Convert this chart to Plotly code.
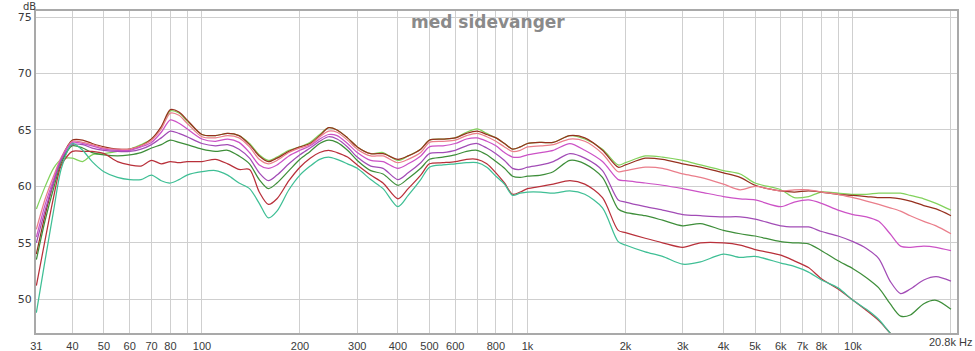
import math
import plotly.graph_objects as go

# Frequencies (Hz) at which the curves were read
freqs = [31, 33, 35, 37, 40, 43, 46, 50, 55, 60, 65, 70, 75, 80, 85, 90, 100, 110, 120, 130,
         140, 150, 160, 170, 185, 200, 215, 230, 245, 260, 280, 300, 330, 360, 400, 430, 470,
         500, 550, 600, 650, 700, 750, 800, 850, 900, 950, 1000, 1100, 1200, 1350, 1500, 1700,
         1900, 2000, 2300, 2600, 3000, 3400, 4000, 4500, 5000, 6000, 6600, 7300, 8000, 9000,
         10000, 11000, 12000, 13000, 14000, 15000, 16500, 18000, 20000]

curve_a = [58.0, 60.0, 61.6, 62.4, 62.5, 62.2, 62.8, 62.9, 63.1, 63.3, 63.7, 64.2, 65.2, 66.7, 66.5, 65.8, 64.6, 64.5, 64.7, 64.5,
           63.8, 62.8, 62.3, 62.6, 63.2, 63.5, 63.9, 64.6, 65.2, 65.0, 64.3, 63.5, 62.9, 63.0, 62.3, 62.7, 63.3,
           64.1, 64.2, 64.3, 64.8, 65.1, 64.7, 64.3, 63.8, 63.3, 63.5, 63.8, 63.9, 63.9, 64.5, 64.2, 63.3,
           61.9, 62.1, 62.7, 62.6, 62.3, 61.9, 61.4, 61.1, 60.3, 59.7, 59.0, 59.1, 59.5, 59.4,
           59.3, 59.3, 59.4, 59.4, 59.4, 59.2, 58.9, 58.5, 57.9]
curve_b = [54.0, 57.5, 60.3, 62.5, 64.1, 64.1, 63.8, 63.5, 63.3, 63.3, 63.6, 64.2, 65.3, 66.8, 66.6, 65.9, 64.6, 64.5, 64.7, 64.5,
           63.7, 62.7, 62.2, 62.5, 63.1, 63.5, 63.8, 64.5, 65.2, 65.0, 64.3, 63.5, 62.9, 62.9, 62.4, 62.7, 63.3,
           64.1, 64.2, 64.3, 64.7, 64.9, 64.6, 64.3, 63.8, 63.3, 63.5, 63.8, 63.9, 63.9, 64.5, 64.3, 63.2,
           61.7, 61.9, 62.5, 62.4, 62.0, 61.7, 61.2, 60.8, 60.1, 59.6, 59.5, 59.6, 59.5, 59.3,
           59.2, 59.1, 59.0, 59.0, 58.9, 58.7, 58.3, 58.0, 57.4]
curve_c = [56.2, 58.9, 60.9, 62.6, 64.0, 63.9, 63.7, 63.4, 63.3, 63.3, 63.6, 64.1, 65.1, 66.5, 66.3, 65.6, 64.4, 64.3, 64.5, 64.3,
           63.5, 62.4, 62.0, 62.3, 63.0, 63.4, 63.7, 64.4, 64.9, 64.8, 64.1, 63.3, 62.7, 62.7, 62.1, 62.4, 63.0,
           63.9, 64.0, 64.1, 64.5, 64.7, 64.4, 64.0, 63.5, 63.1, 63.2, 63.5, 63.6, 63.7, 64.2, 64.0, 62.9,
           61.3, 61.4, 61.7, 61.6, 61.1, 60.8, 60.2, 59.7, 60.0, 59.6, 59.7, 59.7, 59.5, 59.3,
           59.0, 58.7, 58.4, 58.1, 57.8, 57.4, 56.9, 56.5, 55.8]
curve_d = [55.5, 58.4, 60.6, 62.5, 63.9, 63.8, 63.6, 63.3, 63.2, 63.2, 63.5, 63.9, 64.8, 65.9, 65.6, 65.1, 64.2, 64.0, 64.2, 63.9,
           63.0, 61.9, 61.6, 61.9, 62.7, 63.2, 63.6, 64.2, 64.6, 64.5, 63.8, 63.0, 62.3, 62.2, 61.6, 62.0, 62.7,
           63.5, 63.6, 63.8, 64.2, 64.3, 64.0, 63.6, 63.0, 62.6, 62.6, 62.8, 63.0, 63.2, 63.8, 63.2, 62.2,
           60.6, 60.5, 60.3, 60.1, 59.8, 59.5, 59.1, 58.9, 58.8, 58.2, 58.6, 58.8, 58.5, 57.9,
           57.5, 57.3, 56.9, 55.8, 54.7, 54.6, 54.7, 54.6, 54.3]
curve_e = [55.0, 57.9, 60.3, 62.3, 63.7, 63.7, 63.4, 63.2, 63.1, 63.1, 63.3, 63.7, 64.3, 64.9, 64.7, 64.4, 63.8, 63.6, 63.7, 63.3,
           62.5, 61.2, 60.5, 61.0, 62.0, 62.8, 63.4, 64.0, 64.4, 64.2, 63.5, 62.6, 61.8, 61.6, 60.6, 61.2, 62.1,
           62.9, 63.0, 63.2, 63.6, 63.8, 63.4, 62.9, 62.3, 61.6, 61.5, 61.7, 61.9, 62.2, 62.9, 62.5, 61.4,
           58.8, 58.6, 58.2, 57.9, 57.5, 57.4, 57.3, 57.3, 57.1, 56.5, 56.4, 56.4, 56.0, 55.6,
           55.1, 54.5, 53.6, 51.6, 50.5, 50.9, 51.7, 52.0, 51.6]
curve_f = [53.5, 57.0, 59.8, 62.1, 63.6, 63.4, 63.0, 62.8, 62.7, 62.8, 63.0, 63.4, 63.7, 64.1, 63.9, 63.7, 63.3, 63.1, 63.2, 62.7,
           62.0, 60.6, 59.8, 60.3, 61.4, 62.4, 63.1, 63.8, 64.1, 63.9, 63.2, 62.3, 61.4, 61.1, 60.1, 60.7, 61.6,
           62.4, 62.6, 62.8, 63.1, 63.2, 62.8, 62.2, 61.6, 60.9, 60.8, 60.9, 61.0, 61.3, 62.3, 62.0, 60.8,
           58.0, 57.7, 57.4, 57.0, 56.5, 56.7, 56.1, 55.8, 55.6, 55.1, 55.0, 54.9, 54.3, 53.4,
           52.7, 51.9, 51.0, 49.6, 48.5, 48.6, 49.6, 49.9, 49.1]
curve_g = [51.2, 55.3, 59.0, 61.9, 63.1, 63.1, 63.1, 62.9, 62.2, 61.9, 61.8, 62.3, 62.0, 62.2, 62.1, 62.2, 62.2, 62.4, 62.0, 61.5,
           61.5, 59.5, 58.4, 58.9, 60.5, 61.7, 62.5, 63.0, 63.2, 63.0, 62.6, 61.9, 61.0, 60.3, 58.9, 59.8, 61.0,
           62.0, 62.1, 62.2, 62.4, 62.4, 62.0, 61.2, 60.3, 59.3, 59.5, 59.8, 60.0, 60.2, 60.5, 60.2, 59.0,
           56.1, 55.9, 55.4, 55.0, 54.6, 55.0, 55.0, 54.8, 54.4, 53.9, 53.4, 52.8, 51.8, 50.9,
           49.9, 49.0, 48.1, 47.0, 46.0, 45.0, 44.0, 43.0, 42.0]
curve_h = [48.8, 53.5, 57.8, 61.6, 63.8, 63.2, 62.2, 61.3, 60.8, 60.6, 60.6, 61.0, 60.5, 60.3, 60.6, 61.0, 61.3, 61.4, 61.0, 60.3,
           59.8, 58.5, 57.2, 57.8, 59.7, 61.0, 61.8, 62.4, 62.6, 62.4, 62.0, 61.6, 60.6, 59.8, 58.2, 59.2, 60.6,
           61.7, 61.9, 62.0, 62.1, 62.1, 61.7, 60.9, 60.2, 59.2, 59.4, 59.5, 59.5, 59.4, 59.6, 59.3, 58.1,
           55.1, 54.8, 54.2, 53.8, 53.1, 53.3, 54.0, 53.7, 53.8, 53.2, 52.9, 52.4, 51.7, 51.0,
           49.9, 49.1, 48.2, 47.0, 46.0, 45.0, 44.0, 43.0, 42.0]

series = [
    ("A", curve_a, "#82d25c"),
    ("B", curve_b, "#96301f"),
    ("C", curve_c, "#ea7e8b"),
    ("D", curve_d, "#cc52c6"),
    ("E", curve_e, "#a24cb6"),
    ("F", curve_f, "#3e8e3a"),
    ("G", curve_g, "#b8303a"),
    ("H", curve_h, "#3fbf95"),
]

x_tickvals = [31, 40, 50, 60, 70, 80, 90, 100, 200, 300, 400, 500, 600, 700, 800, 900, 1000,
              2000, 3000, 4000, 5000, 6000, 7000, 8000, 9000, 10000, 20000]
x_ticktext = ["31", "40", "50", "60", "70", "80", "", "100", "200", "300", "400", "500", "600", "",
              "800", "", "1k", "2k", "3k", "4k", "5k", "6k", "7k", "8k", "", "10k", ""]
x_end_label = "20.8k Hz"
y_tickvals = [50, 55, 60, 65, 70, 75]

x_min, x_max = 30.92, 20870
y_min, y_max = 47.0, 75.55

fig = go.Figure()
for name, vals, color in series:
    assert len(vals) == len(freqs), name
    fig.add_trace(go.Scatter(x=freqs, y=vals, mode="lines", name=name,
                             line=dict(color=color, width=1.25, shape="spline", smoothing=0.8),
                             hoverinfo="skip"))

x_font = dict(family="Liberation Sans", size=11, color="#3a3a3a")
y_font = dict(family="DejaVu Sans", size=11, color="#3a3a3a")
fig.update_layout(
    width=975, height=351,
    margin=dict(l=36, r=18, t=11, b=18, pad=0),
    paper_bgcolor="white", plot_bgcolor="white",
    showlegend=False,
    xaxis=dict(type="log", range=[math.log10(x_min), math.log10(x_max)],
               tickvals=x_tickvals, ticktext=x_ticktext, tickfont=x_font,
               showgrid=True, gridcolor="#cfcfcf", gridwidth=1,
               showline=True, linecolor="#a9a9a9", linewidth=2, mirror=True,
               ticks="", zeroline=False, automargin=False, ticklabelstandoff=2),
    yaxis=dict(range=[y_min, y_max], tickvals=y_tickvals, tickfont=y_font,
               showgrid=True, gridcolor="#cfcfcf", gridwidth=1,
               showline=True, linecolor="#a9a9a9", linewidth=2, mirror=True,
               ticks="", zeroline=False, automargin=False),
    annotations=[
        dict(text="<b>med sidevanger</b>", xref="paper", yref="paper", x=0.5, y=1,
             xanchor="center", yanchor="top", xshift=-9, yshift=1, showarrow=False,
             font=dict(family="DejaVu Sans", size=17, color="#8a8a8a")),
        dict(text="dB", xref="paper", yref="paper", x=0, y=1, xanchor="right", yanchor="bottom",
             xshift=2, yshift=-3, showarrow=False,
             font=dict(family="DejaVu Sans", size=10, color="#3a3a3a")),
        dict(text=x_end_label, xref="paper", yref="paper", x=1, y=0, xanchor="right", yanchor="top",
             xshift=17, yshift=-1, showarrow=False, font=x_font),
    ],
)

fig.write_html("out.html")
